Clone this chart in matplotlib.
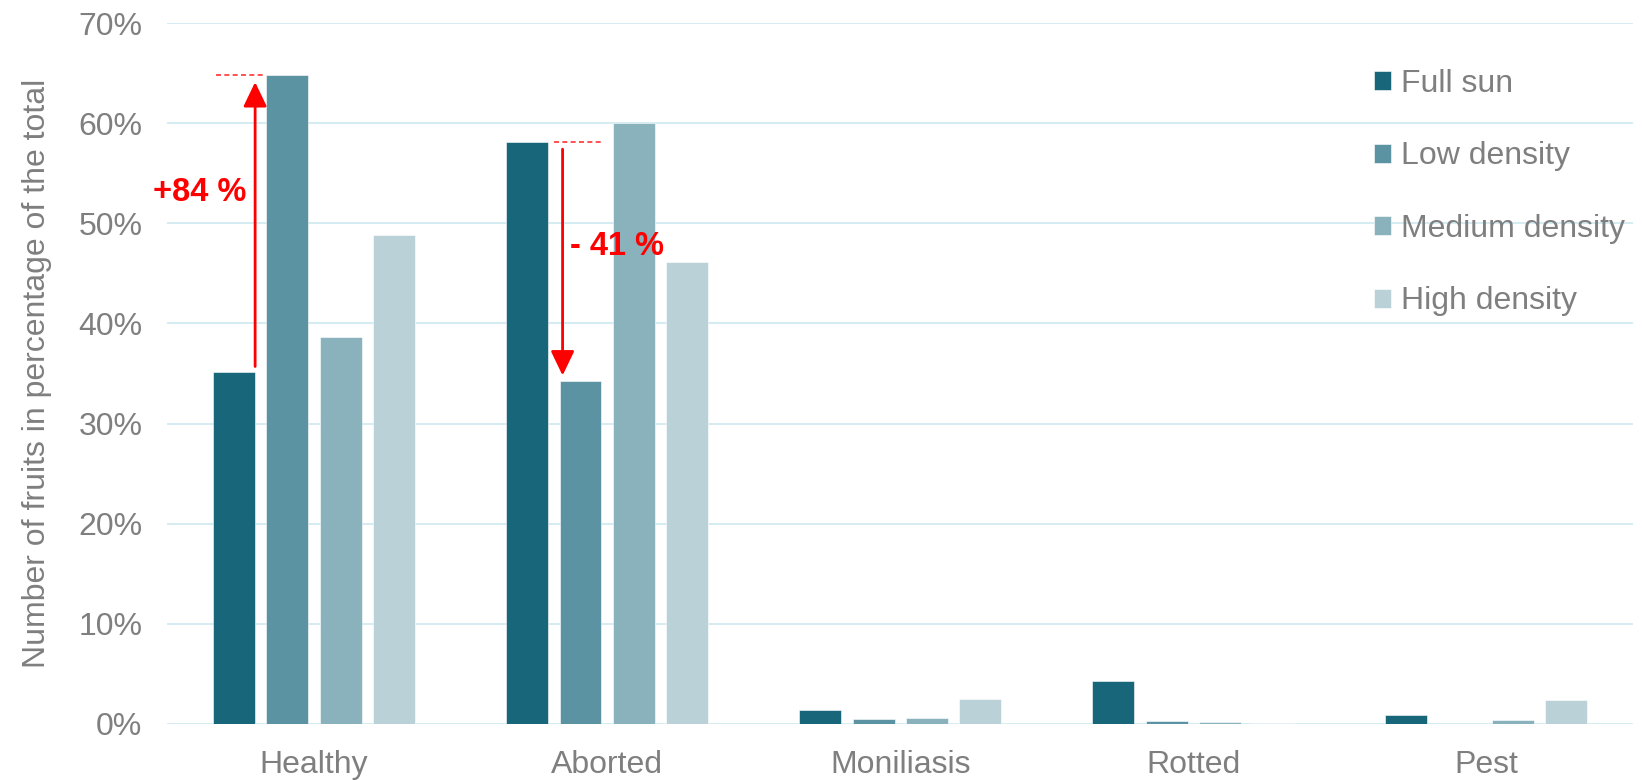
import numpy as np
import matplotlib.pyplot as plt
from matplotlib.ticker import FuncFormatter

plt.rcParams['font.family'] = ['Liberation Sans', 'DejaVu Sans']

categories = ["Healthy", "Aborted", "Moniliasis", "Rotted", "Pest"]
series_names = ["Full sun", "Low density", "Medium density", "High density"]
full_sun = [35.2, 58.1, 1.36, 4.3, 0.93]
low_density = [64.8, 34.3, 0.53, 0.3, 0.0]
medium_density = [38.6, 60.0, 0.63, 0.2, 0.43]
high_density = [48.8, 46.1, 2.5, 0.05, 2.4]
colors = ["#18667A", "#5B93A2", "#8AB2BC", "#B9D1D7"]

GREY = "#7F7F7F"
GRID = "#CDE9F1"

fig = plt.figure(figsize=(16.42, 7.80), dpi=100)
ax = fig.add_axes([0.102, 0.0718, 0.8925, 0.8987])

x = np.arange(len(categories))
step = 0.182
width = 0.143
for i, (name, vals) in enumerate(zip(series_names, [full_sun, low_density, medium_density, high_density])):
    ax.bar(x + (i - 1.5) * step, np.array(vals) / 100, width, color=colors[i],
           label=name, edgecolor="white", linewidth=0.4, zorder=2)

ax.set_xlim(-0.5, 4.5)
ax.set_ylim(0, 0.70)
ax.set_yticks(np.arange(0, 0.71, 0.1))
ax.yaxis.set_major_formatter(FuncFormatter(lambda y, _: '{:.0f}%'.format(y * 100)))
ax.set_xticks(x)
ax.set_xticklabels(categories)
ax.grid(axis='y', color=GRID, linewidth=1.2, zorder=0)
ax.set_axisbelow(True)
for s in ax.spines.values():
    s.set_visible(False)
ax.tick_params(axis='both', length=0, labelsize=23, labelcolor=GREY)
ax.tick_params(axis='y', pad=18)
ax.tick_params(axis='x', pad=19)
ax.set_ylabel("Number of fruits in percentage of the total", fontsize=23, color=GREY, labelpad=19)

# annotations
red = "#FF0000"
head = "-|>,head_length=0.75,head_width=0.36"
# +84 %
ax.plot([-0.334, -0.164], [0.648, 0.648], color=red, lw=1.2, ls=(0, (3, 2)), alpha=0.8, zorder=3)
ax.annotate("", xy=(-0.201, 0.641), xytext=(-0.201, 0.357),
            arrowprops=dict(arrowstyle=head, color=red, lw=2,
                            mutation_scale=20, shrinkA=0, shrinkB=0), zorder=4)
ax.text(-0.389, 0.531, "+84 %", color=red, fontsize=23.5, fontweight='bold', ha='center', va='center')
# - 41 %
ax.plot([0.819, 0.989], [0.581, 0.581], color=red, lw=1.2, ls=(0, (3, 2)), alpha=0.8, zorder=3)
ax.annotate("", xy=(0.848, 0.348), xytext=(0.848, 0.574),
            arrowprops=dict(arrowstyle=head, color=red, lw=2,
                            mutation_scale=20, shrinkA=0, shrinkB=0), zorder=4)
ax.text(1.032, 0.477, "- 41 %", color=red, fontsize=23.5, fontweight='bold', ha='center', va='center')

leg = ax.legend(loc='upper left', bbox_to_anchor=(1374 / 1642, 1 - 69 / 780), bbox_transform=fig.transFigure,
                frameon=False, fontsize=23, labelcolor=GREY, handlelength=0.53, handleheight=0.53,
                handletextpad=0.3, labelspacing=1.33, borderpad=0, borderaxespad=0)

fig.savefig("out.png", dpi=100)
